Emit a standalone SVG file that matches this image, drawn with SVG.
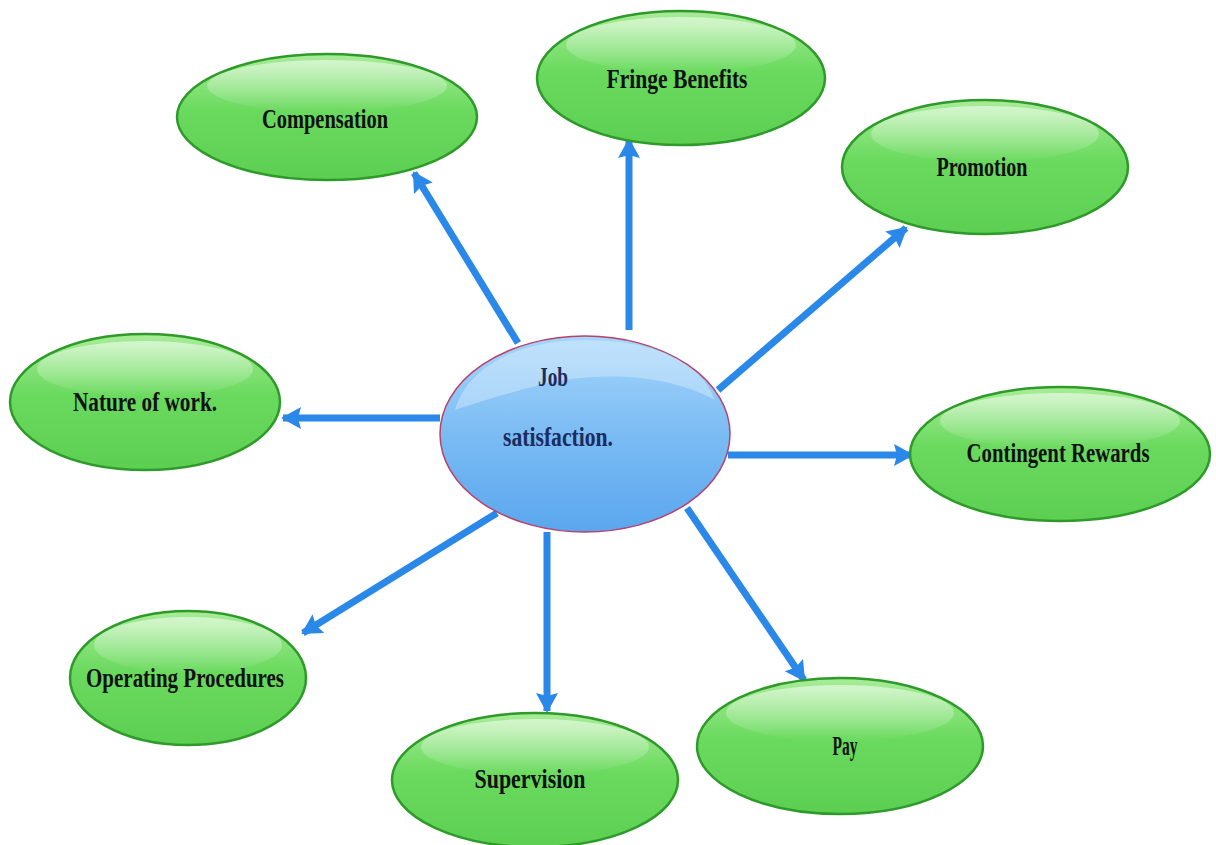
<svg xmlns="http://www.w3.org/2000/svg" width="1216" height="845" viewBox="0 0 1216 845">
<style>
.node{stroke:#2e9a2a;stroke-width:2.5;fill:url(#gGreen)}
.hl{fill:url(#gHl)}
.lbl{font-family:"Liberation Serif","Times New Roman",serif;font-weight:bold;font-size:27px;fill:#111;text-anchor:middle}
.clbl{font-family:"Liberation Serif","Times New Roman",serif;font-weight:bold;font-size:27px;fill:#1c2c5c;text-anchor:middle}
.conn{stroke:#2a88e8;stroke-width:7;fill:none;marker-end:url(#ah)}
</style>
<defs>
<linearGradient id="gGreen" x1="0" y1="0" x2="0" y2="1">
<stop offset="0" stop-color="#a8ec98"/>
<stop offset="0.45" stop-color="#6ada5e"/>
<stop offset="1" stop-color="#5ccf52"/>
</linearGradient>
<linearGradient id="gHl" x1="0" y1="0" x2="0" y2="1">
<stop offset="0" stop-color="#ffffff" stop-opacity="0.55"/>
<stop offset="1" stop-color="#ffffff" stop-opacity="0"/>
</linearGradient>
<linearGradient id="gBlue" x1="0" y1="0" x2="0" y2="1">
<stop offset="0" stop-color="#a6d6fb"/>
<stop offset="0.5" stop-color="#7bbcf4"/>
<stop offset="1" stop-color="#5aa6ee"/>
</linearGradient>
<marker id="ah" markerUnits="userSpaceOnUse" markerWidth="24" markerHeight="24" viewBox="0 0 24 24" refX="18" refY="12" orient="auto">
<path d="M0,1 L20,12 L0,23 L3,12 Z" fill="#2a88e8"/>
</marker>
</defs>
<rect width="1216" height="845" fill="#ffffff"/>
<g id="connectors">
<line class="conn" x1="518" y1="343" x2="414" y2="173"/>
<line class="conn" x1="629" y1="330" x2="629" y2="140"/>
<line class="conn" x1="718" y1="390" x2="906" y2="228"/>
<line class="conn" x1="440" y1="418" x2="283" y2="418"/>
<line class="conn" x1="728" y1="455" x2="912" y2="455"/>
<line class="conn" x1="497" y1="513" x2="303" y2="633"/>
<line class="conn" x1="547" y1="532" x2="547" y2="711"/>
<line class="conn" x1="687" y1="508" x2="804" y2="680"/>
</g>
<g id="n-compensation">
<ellipse class="node" cx="327" cy="117" rx="150" ry="63"/>
<ellipse class="hl" cx="327" cy="86" rx="120" ry="26"/>
<text class="lbl" x="325" y="128" textLength="126" lengthAdjust="spacingAndGlyphs">Compensation</text>
</g>
<g id="n-fringe">
<ellipse class="node" cx="681" cy="78" rx="144" ry="67"/>
<ellipse class="hl" cx="681" cy="45" rx="115" ry="28"/>
<text class="lbl" x="677" y="88" textLength="141" lengthAdjust="spacingAndGlyphs">Fringe Benefits</text>
</g>
<g id="n-promotion">
<ellipse class="node" cx="985" cy="167" rx="143" ry="67"/>
<ellipse class="hl" cx="985" cy="134" rx="114" ry="28"/>
<text class="lbl" x="982" y="176" textLength="91" lengthAdjust="spacingAndGlyphs">Promotion</text>
</g>
<g id="n-nature">
<ellipse class="node" cx="145" cy="402" rx="135" ry="68"/>
<ellipse class="hl" cx="145" cy="369" rx="108" ry="28"/>
<text class="lbl" x="145" y="411" textLength="144" lengthAdjust="spacingAndGlyphs">Nature of work.</text>
</g>
<g id="n-job">
<ellipse cx="585" cy="434" rx="145" ry="98" fill="url(#gBlue)" stroke="#b8416a" stroke-width="1.5"/>
<path d="M455,410 C470,360 530,340 585,340 C650,340 700,360 715,400 C670,375 600,370 540,385 C500,395 470,405 455,410 Z" fill="#ffffff" fill-opacity="0.3"/>
<text class="clbl" x="553" y="386" textLength="30" lengthAdjust="spacingAndGlyphs">Job</text>
<text class="clbl" x="558" y="446" textLength="110" lengthAdjust="spacingAndGlyphs">satisfaction.</text>
</g>
<g id="n-contingent">
<ellipse class="node" cx="1060" cy="454" rx="150" ry="67"/>
<ellipse class="hl" cx="1060" cy="421" rx="120" ry="28"/>
<text class="lbl" x="1058" y="462" textLength="183" lengthAdjust="spacingAndGlyphs">Contingent Rewards</text>
</g>
<g id="n-operating">
<ellipse class="node" cx="188" cy="678" rx="118" ry="67"/>
<ellipse class="hl" cx="188" cy="645" rx="94" ry="28"/>
<text class="lbl" x="185" y="687" textLength="198" lengthAdjust="spacingAndGlyphs">Operating Procedures</text>
</g>
<g id="n-supervision">
<ellipse class="node" cx="535" cy="780" rx="143" ry="67"/>
<ellipse class="hl" cx="535" cy="747" rx="114" ry="28"/>
<text class="lbl" x="530" y="788" textLength="111" lengthAdjust="spacingAndGlyphs">Supervision</text>
</g>
<g id="n-pay">
<ellipse class="node" cx="840" cy="746" rx="143" ry="68"/>
<ellipse class="hl" cx="840" cy="713" rx="114" ry="28"/>
<text class="lbl" x="845" y="755" textLength="25" lengthAdjust="spacingAndGlyphs">Pay</text>
</g>
</svg>
